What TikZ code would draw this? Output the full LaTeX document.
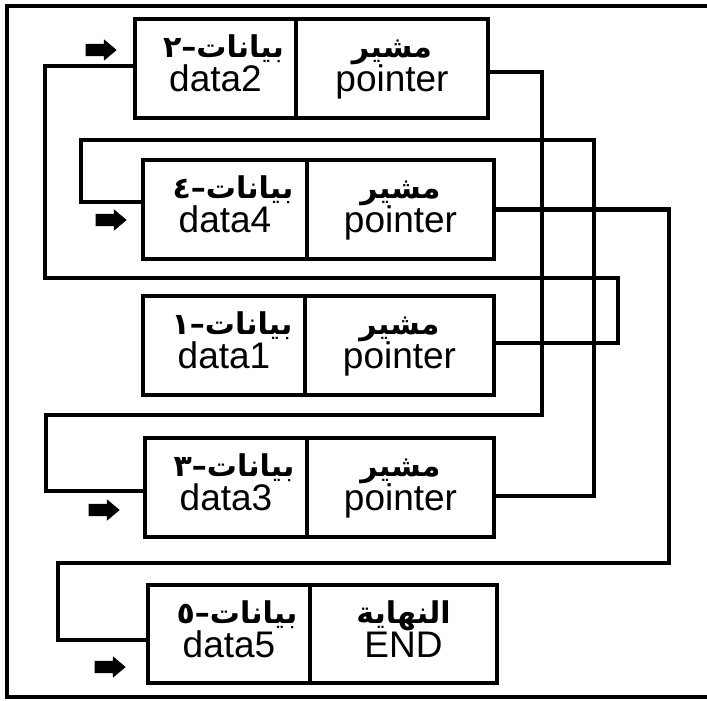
\documentclass[tikz,border=0pt]{standalone}
\usepackage{fontspec}
\setmainfont{Liberation Sans}
\newfontfamily\arabicfont[Script=Arabic]{DejaVu Sans}
\TeXXeTstate=1
\usetikzlibrary{calc,shapes.arrows}
\begin{document}
\begin{tikzpicture}[x=1pt,y=-1pt,
  cell/.style={draw, line width=4.2pt, inner sep=0pt, minimum height=99pt},
  conn/.style={line width=4.2pt},
  frameline/.style={line width=4pt},
  lat/.style={anchor=base, inner sep=0pt, font=\fontsize{37}{37}\selectfont},
  arb/.style={anchor=base, inner sep=0pt, font=\fontsize{30}{30}\arabicfont\bfseries},
  arbd/.style={arb, xshift=8pt},
  marker/.style={single arrow, fill=black, draw=none, inner xsep=0pt, inner ysep=6pt,
    single arrow head extend=4.5pt, minimum height=31pt, single arrow tip angle=80, anchor=tip}
]
\useasboundingbox (0,0) rectangle (707,701);
\fill[white] (0,0) rectangle (707,701);
% outer frame (no right side)
\draw[frameline] (707,6) -- (7,6) -- (7,697) -- (707,697);

% cells
\node[cell, minimum width=161pt] (d2) at (215.5,68.5) {};
\node[cell, minimum width=192pt] (p2) at (392,68.5) {};
\node[cell, minimum width=164pt] (d4) at (225,209.5) {};
\node[cell, minimum width=187pt] (p4) at (400.5,209.5) {};
\node[cell, minimum width=162pt] (d1) at (224,345.5) {};
\node[cell, minimum width=189pt] (p1) at (399.5,345.5) {};
\node[cell, minimum width=162pt] (d3) at (226,487.5) {};
\node[cell, minimum width=187pt] (p3) at (400.5,487.5) {};
\node[cell, minimum width=162pt, minimum height=98pt] (d5) at (229,634) {};
\node[cell, minimum width=187pt, minimum height=98pt] (p5) at (403.5,634) {};

% texts
\node[arbd] (a2) at ($(d2.north)+(0,41)$) {\beginR بيانات–٢\endR};
\node[lat] (l2) at ($(d2.north)+(0,75)$) {data2};
\node[arb] (b2) at ($(p2.north)+(0,41)$) {\beginR مشير\endR};
\node[lat] (q2) at ($(p2.north)+(0,75)$) {pointer};

\node[arbd] (a4) at ($(d4.north)+(0,41)$) {\beginR بيانات–٤\endR};
\node[lat] (l4) at ($(d4.north)+(0,75)$) {data4};
\node[arb] (b4) at ($(p4.north)+(0,41)$) {\beginR مشير\endR};
\node[lat] (q4) at ($(p4.north)+(0,75)$) {pointer};

\node[arbd] (a1) at ($(d1.north)+(0,41)$) {\beginR بيانات–١\endR};
\node[lat] (l1) at ($(d1.north)+(0,75)$) {data1};
\node[arb] (b1) at ($(p1.north)+(0,41)$) {\beginR مشير\endR};
\node[lat] (q1) at ($(p1.north)+(0,75)$) {pointer};

\node[arbd] (a3) at ($(d3.north)+(0,41)$) {\beginR بيانات–٣\endR};
\node[lat] (l3) at ($(d3.north)+(0,75)$) {data3};
\node[arb] (b3) at ($(p3.north)+(0,41)$) {\beginR مشير\endR};
\node[lat] (q3) at ($(p3.north)+(0,75)$) {pointer};

\node[arbd] (a5) at ($(d5.north)+(0,41)$) {\beginR بيانات–٥\endR};
\node[lat] (l5) at ($(d5.north)+(0,75)$) {data5};
\node[arb] (b5) at ($(p5.north)+(0,41)$) {\beginR النهاية\endR};
\node[lat] (q5) at ($(p5.north)+(0,75)$) {END};

% entry markers
\node[marker] (m2) at (117,50) {};
\node[marker] (m4) at (127,220) {};
\node[marker] (m3) at (120,510) {};
\node[marker] (m5) at (126,667) {};

% connectors
\draw[conn] ([yshift=2.5pt]p1.east) -| (618,278) -| ([xshift=-88pt,yshift=2.5pt]d2.west) -- ([yshift=2.5pt]d2.west);
\draw[conn] ([yshift=-3.5pt]p2.east) -| (542,415) -| ([xshift=-97pt,yshift=-3.5pt]d3.west) -- ([yshift=-3.5pt]d3.west);
\draw[conn] ([yshift=-8.5pt]p3.east) -| (594,140) -| ([xshift=-60pt,yshift=7.5pt]d4.west) -- ([yshift=7.5pt]d4.west);
\draw[conn] (p4.east) -| (669,563) -| ([xshift=-88pt,yshift=-6pt]d5.west) -- ([yshift=-6pt]d5.west);
\end{tikzpicture}
\end{document}
